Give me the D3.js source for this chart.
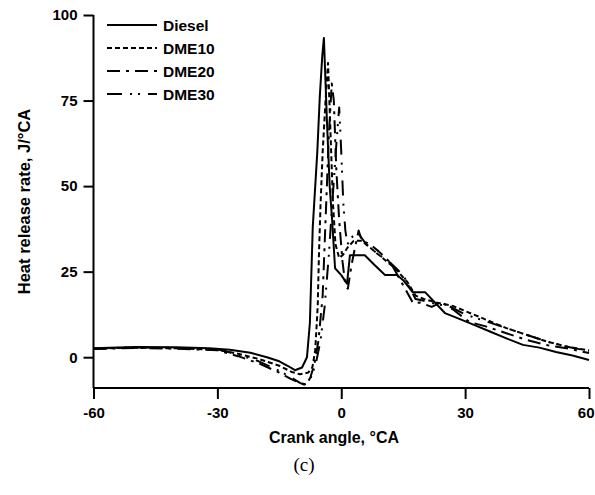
<!DOCTYPE html>
<html>
<head>
<meta charset="utf-8">
<script src="https://cdn.jsdelivr.net/npm/d3@7"></script>
<style>
  body { margin: 0; background: #fff; }
  svg { font-family: Arial, "Liberation Sans", sans-serif; }
</style>
</head>
<body>
<div id="chart"></div>
<script>
// heat release rate vs crank angle
const seriesNames = ['Diesel', 'DME10', 'DME20', 'DME30'];

const dieselX = [-60, -50, -40, -32, -27, -22, -18, -15, -13, -11.2, -9.5, -8.3, -7.6, -6.9, -5.8, -5.2, -4.6, -4.2, -3.5, -2.8, -2.2, -1.5, 0, 1.4, 2.1, 5.7, 8, 10.6, 13.5, 15, 17.3, 20.3, 25.1, 28, 32, 36, 40, 44, 48, 52, 56, 60];
const dieselY = [2.6, 3.0, 2.9, 2.6, 2.2, 1.3, 0, -1.2, -2.5, -3.8, -3, 0, 10, 38, 60, 76, 88, 93.3, 70, 50, 40, 26, 24, 21.5, 29.8, 29.8, 27, 24, 24, 22.5, 19, 19, 12.9, 11.5, 9.5, 7.5, 5.5, 3.6, 2.8, 1.5, 0.5, -0.8];

const dme10X = [-60, -50, -40, -30, -25, -20, -15, -12, -10, -8, -7, -6.3, -5.7, -5.4, -5, -4.5, -3.8, -3.2, -2.5, -2, -1.4, -0.5, 0.5, 1.5, 3, 5, 7, 10, 13, 16, 18, 20, 23, 27, 30, 35, 40, 45, 50, 55, 60];
const dme10Y = [2.5, 2.8, 2.6, 2.2, 1, -0.5, -2.5, -4.3, -5, -4.5, -3, 2, 15, 30, 45, 60, 75, 86, 62, 45, 33, 29, 30, 32, 34, 34, 32, 29, 26, 22, 18, 17, 16, 15, 13.5, 11, 8.5, 6.5, 4.5, 3, 2];

const dme20X = [-60, -50, -40, -30, -25, -20, -15, -12, -10, -8.5, -7.5, -6.5, -5.5, -4.5, -3.8, -3, -2.3, -1.8, -1.2, -0.5, 0.3, 1, 1.6, 2.5, 3.5, 4.2, 5, 7, 9, 12, 15, 17.4, 19, 21.9, 24.3, 27, 31, 35, 40, 45, 50, 55, 60];
const dme20Y = [2.4, 2.7, 2.5, 2.0, 0.3, -1.8, -4.5, -6.5, -7.5, -8, -6, -2, 5, 18, 40, 65, 80, 75, 55, 40, 28, 21, 20, 27, 33, 37, 34, 33, 31, 27.5, 21, 15.8, 16, 14.7, 16, 14, 10.3, 9, 7, 5, 3.5, 2.5, 1.2];

const dme30X = [-60, -50, -40, -30, -25, -20, -15, -12, -10, -9, -8, -7, -6, -5, -4, -3, -2, -1.2, -0.5, 0, 0.5, 1, 1.5, 2.5, 4, 6, 9, 12, 15, 18, 20, 23, 26, 30, 35, 40, 45, 50, 55, 60];
const dme30Y = [2.5, 2.9, 2.7, 2.3, 0.8, -1.2, -4, -6, -7.5, -8, -7.5, -5, -1, 5, 15, 30, 48, 62, 73, 60, 45, 37, 33, 35, 36.5, 33, 30, 27.5, 24, 17, 16.5, 15.5, 15, 12.5, 10.5, 8.5, 6.5, 4.5, 3, 1.8];

const xTicks = [-60, -30, 0, 30, 60];
const yTicks = [0, 25, 50, 75, 100];

const series = [
  { name: seriesNames[0], xs: dieselX, ys: dieselY, dash: null },
  { name: seriesNames[1], xs: dme10X, ys: dme10Y, dash: '5,3' },
  { name: seriesNames[2], xs: dme20X, ys: dme20Y, dash: '13,6,3,6' },
  { name: seriesNames[3], xs: dme30X, ys: dme30Y, dash: '15,8,2,6,2,8' }
];

const width = 595, height = 495;
const margin = { top: 15, right: 6, bottom: 107, left: 93.5 };

const svg = d3.select('#chart')
  .append('svg')
    .attr('width', width)
    .attr('height', height);

const x = d3.scaleLinear()
  .domain([-60, 60])
  .range([margin.left, width - margin.right]);

const y = d3.scaleLinear()
  .domain([-9, 100])
  .range([height - margin.bottom, margin.top]);

// axes, hyphen minus like the original
const xAxis = svg.append('g')
  .attr('transform', 'translate(0,' + y(-9) + ')')
  .call(d3.axisBottom(x).tickValues(xTicks).tickSize(11).tickPadding(5).tickFormat(d => String(d)));

const yAxis = svg.append('g')
  .attr('transform', 'translate(' + x(-60) + ',0)')
  .call(d3.axisLeft(y).tickValues(yTicks).tickSize(10).tickPadding(6).tickFormat(d => String(d)));

[xAxis, yAxis].forEach(a => {
  a.selectAll('.tick line').attr('stroke', '#000').attr('stroke-width', 2);
  a.selectAll('.tick text')
    .attr('fill', '#000')
    .style('font-size', '15px')
    .style('font-weight', 'bold')
    .style('font-family', 'Arial, "Liberation Sans", sans-serif');
});
// plain domain lines (no outer ticks)
xAxis.select('.domain').attr('stroke', '#000').attr('stroke-width', 2).attr('d', 'M' + x(-60) + ',0H' + x(60));
yAxis.select('.domain').attr('stroke', '#000').attr('stroke-width', 2).attr('d', 'M0,' + y(-9) + 'V' + y(100));
xAxis.selectAll('.tick text').attr('dy', '0.95em');
// last label sits at the page edge, pull it in a bit
xAxis.selectAll('.tick text').filter(d => d === 60).attr('text-anchor', 'end').attr('x', 5);

// curves
const line = d3.line()
  .x(d => x(d[0]))
  .y(d => y(d[1]));

svg.append('g')
  .selectAll('path')
  .data(series)
  .enter()
  .append('path')
    .attr('d', s => line(s.xs.map((v, i) => [v, s.ys[i]])))
    .attr('fill', 'none')
    .attr('stroke', '#000')
    .attr('stroke-width', 2)
    .attr('stroke-linejoin', 'round')
    .attr('stroke-dasharray', s => s.dash);

// legend
const legend = svg.append('g')
  .selectAll('g')
  .data(series)
  .enter()
  .append('g')
    .attr('transform', (s, i) => 'translate(107,' + (25 + i * 23) + ')');

legend.append('line')
  .attr('x1', 0).attr('x2', 50)
  .attr('stroke', '#000')
  .attr('stroke-width', 2)
  .attr('stroke-dasharray', s => s.dash);

legend.append('text')
  .attr('x', 56)
  .attr('dy', '0.36em')
  .style('font-size', '15.5px')
  .style('font-weight', 'bold')
  .text(s => s.name);

// axis titles
svg.append('text')
  .attr('x', 334)
  .attr('y', 443)
  .attr('text-anchor', 'middle')
  .style('font-size', '16px')
  .style('font-weight', 'bold')
  .text('Crank angle, °CA');

svg.append('text')
  .attr('transform', 'translate(30,' + ((y(-9) + y(100)) / 2) + ') rotate(-90)')
  .attr('text-anchor', 'middle')
  .style('font-size', '16.5px')
  .style('font-weight', 'bold')
  .text('Heat release rate, J/°CA');

svg.append('text')
  .attr('x', 304)
  .attr('y', 471)
  .attr('text-anchor', 'middle')
  .style('font-family', '"Liberation Serif", "Times New Roman", serif')
  .style('font-size', '19px')
  .text('(c)');
</script>
</body>
</html>
